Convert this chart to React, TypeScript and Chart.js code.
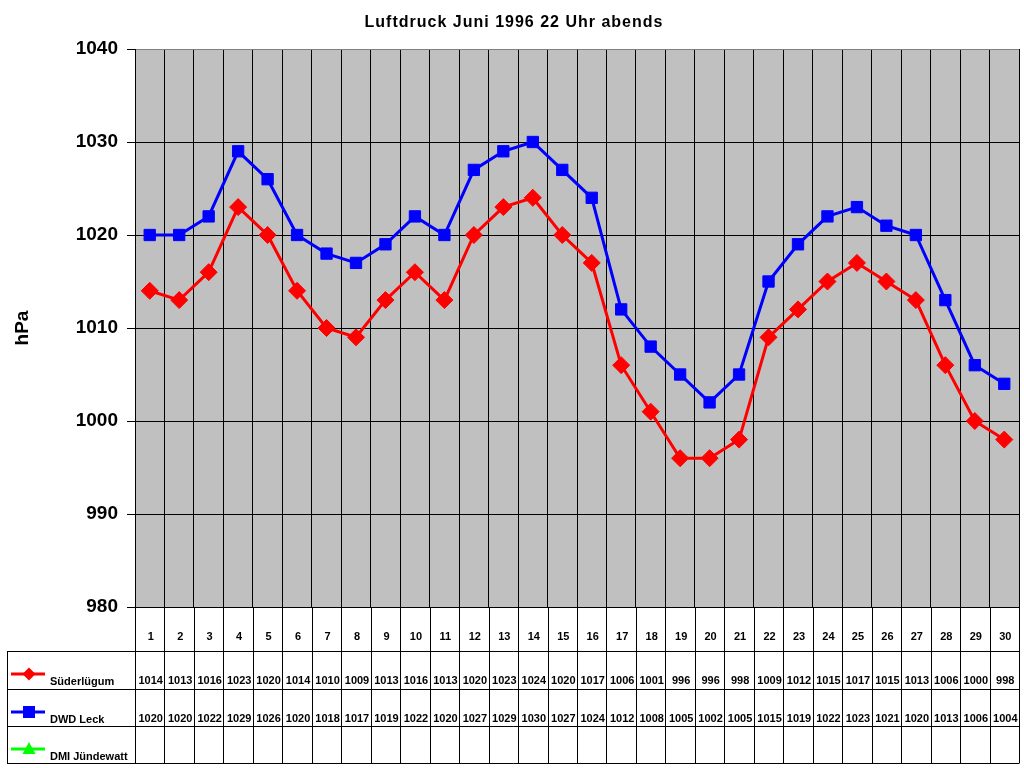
import React, { useEffect, useRef } from 'react';
import { Chart, registerables } from 'chart.js';

Chart.register(...registerables);

const chartTitle = 'Luftdruck Juni 1996 22 Uhr abends';
const yAxisTitle = 'hPa';
const days = ['1', '2', '3', '4', '5', '6', '7', '8', '9', '10', '11', '12', '13', '14', '15', '16', '17', '18', '19', '20', '21', '22', '23', '24', '25', '26', '27', '28', '29', '30'];
const seriesNames = ['Süderlügum', 'DWD Leck', 'DMI Jündewatt'];
const suederluegum = [1014, 1013, 1016, 1023, 1020, 1014, 1010, 1009, 1013, 1016, 1013, 1020, 1023, 1024, 1020, 1017, 1006, 1001, 996, 996, 998, 1009, 1012, 1015, 1017, 1015, 1013, 1006, 1000, 998];
const dwdLeck = [1020, 1020, 1022, 1029, 1026, 1020, 1018, 1017, 1019, 1022, 1020, 1027, 1029, 1030, 1027, 1024, 1012, 1008, 1005, 1002, 1005, 1015, 1019, 1022, 1023, 1021, 1020, 1013, 1006, 1004];
const dmiJuendewatt: number[] = [];
const yMin = 980;
const yMax = 1040;
const yStep = 10;

const FONT = 'Arial, "Liberation Sans", sans-serif';
const colors = ['#FF0000', '#0000FF', '#00FF00'];

function drawMarker(ctx: CanvasRenderingContext2D, kind: string, x: number, y: number, color: string) {
  ctx.save();
  ctx.fillStyle = color;
  ctx.beginPath();
  if (kind === 'diamond') {
    ctx.moveTo(x - 6.5, y);
    ctx.lineTo(x, y - 6.5);
    ctx.lineTo(x + 6.5, y);
    ctx.lineTo(x, y + 6.5);
  } else if (kind === 'square') {
    ctx.rect(x - 6, y - 6, 12, 12);
  } else {
    ctx.moveTo(x, y - 7);
    ctx.lineTo(x + 6.5, y + 5);
    ctx.lineTo(x - 6.5, y + 5);
  }
  ctx.closePath();
  ctx.fill();
  ctx.restore();
}

const tablePlugin = {
  id: 'excelTable',
  beforeDraw(chart: any) {
    const { ctx, chartArea } = chart;
    ctx.save();
    ctx.fillStyle = '#FFFFFF';
    ctx.fillRect(0, 0, chart.width, chart.height);
    ctx.fillStyle = '#C0C0C0';
    ctx.fillRect(chartArea.left, chartArea.top, chartArea.right - chartArea.left, chartArea.bottom - chartArea.top);
    ctx.restore();
  },
  afterDraw(chart: any) {
    const { ctx, chartArea } = chart;
    const xs = chart.scales.x;
    const n = days.length;
    const colW = (chartArea.right - chartArea.left) / n;
    const top = chartArea.bottom;
    const rowLines = [top + 44, top + 82, top + 119, top + 156];
    const tableBottom = rowLines[3];
    const legendLeft = 7;

    ctx.save();
    // title
    ctx.fillStyle = '#000';
    ctx.font = `bold 16px ${FONT}`;
    (ctx as any).letterSpacing = '1px';
    ctx.textAlign = 'center';
    ctx.textBaseline = 'alphabetic';
    ctx.fillText(chartTitle, 514, 27);
    (ctx as any).letterSpacing = '0px';

    // table lines
    ctx.strokeStyle = '#000';
    ctx.lineWidth = 1;
    ctx.beginPath();
    for (let i = 0; i < n; i++) {
      const bx = Math.round(xs.getPixelForValue(i) - colW / 2) + 0.5;
      ctx.moveTo(bx, top);
      ctx.lineTo(bx, tableBottom);
    }
    const rx = Math.round(xs.getPixelForValue(n - 1) + colW / 2) + 0.5;
    ctx.moveTo(rx, top);
    ctx.lineTo(rx, tableBottom);
    for (const ly of rowLines) {
      ctx.moveTo(legendLeft, Math.round(ly) + 0.5);
      ctx.lineTo(rx, Math.round(ly) + 0.5);
    }
    ctx.moveTo(legendLeft + 0.5, rowLines[0]);
    ctx.lineTo(legendLeft + 0.5, tableBottom);
    ctx.stroke();

    // category labels and values
    ctx.font = `bold 11px ${FONT}`;
    ctx.textAlign = 'center';
    const seriesData = [suederluegum, dwdLeck, dmiJuendewatt];
    for (let i = 0; i < n; i++) {
      const cx = xs.getPixelForValue(i) + 1;
      ctx.fillText(days[i], cx, top + 33);
      seriesData.forEach((arr, s) => {
        const v = arr[i];
        if (v !== undefined && v !== null) {
          ctx.fillText(String(v), cx, rowLines[s] + 33);
        }
      });
    }

    // legend keys
    const kinds = ['diamond', 'square', 'triangle'];
    seriesNames.forEach((name, s) => {
      const ly = rowLines[s] + 23;
      ctx.strokeStyle = colors[s];
      ctx.lineWidth = 3;
      ctx.beginPath();
      ctx.moveTo(11, ly);
      ctx.lineTo(45, ly);
      ctx.stroke();
      drawMarker(ctx, kinds[s], 29, ly, colors[s]);
      ctx.fillStyle = '#000';
      ctx.textAlign = 'left';
      ctx.font = `bold 11px ${FONT}`;
      ctx.fillText(name, 50, rowLines[s] + 34);
    });
    ctx.restore();
  },
};

export default function App() {
  const canvasRef = useRef<HTMLCanvasElement | null>(null);

  useEffect(() => {
    document.body.style.margin = '0';
    const canvas = canvasRef.current;
    if (!canvas) return;
    const chart = new Chart(canvas, {
      type: 'line',
      data: {
        labels: days,
        datasets: [
          {
            label: seriesNames[0],
            data: suederluegum,
            borderColor: colors[0],
            backgroundColor: colors[0],
            borderWidth: 3,
            pointStyle: 'rectRot',
            pointRadius: 8.5,
            pointBorderWidth: 1,
            pointBorderColor: colors[0],
            pointBackgroundColor: colors[0],
            tension: 0,
          },
          {
            label: seriesNames[1],
            data: dwdLeck,
            borderColor: colors[1],
            backgroundColor: colors[1],
            borderWidth: 3,
            pointStyle: 'rect',
            pointRadius: 8,
            pointBorderWidth: 1,
            pointBorderColor: colors[1],
            pointBackgroundColor: colors[1],
            tension: 0,
          },
          {
            label: seriesNames[2],
            data: dmiJuendewatt,
            borderColor: colors[2],
            backgroundColor: colors[2],
            borderWidth: 3,
            pointStyle: 'triangle',
            pointRadius: 7,
            tension: 0,
          },
        ],
      },
      options: {
        responsive: false,
        animation: false,
        layout: { autoPadding: false, padding: { top: 49, right: 5, bottom: 161, left: 0 } },
        plugins: {
          legend: { display: false },
          tooltip: { enabled: false },
          title: { display: false },
        },
        scales: {
          x: {
            type: 'category',
            offset: true,
            ticks: { display: false },
            grid: {
              offset: true,
              drawTicks: false,
              color: (c: any) => (c.index === days.length ? '#808080' : '#000000'),
              lineWidth: 1,
            },
            border: { color: '#000000', width: 1 },
            afterFit: (s: any) => {
              s.height = 0;
            },
          },
          y: {
            min: yMin,
            max: yMax,
            ticks: {
              stepSize: yStep,
              color: '#000000',
              padding: 9,
              font: { family: FONT, size: 19, weight: 'bold' },
              callback: (v: any) => String(v),
            },
            grid: {
              color: (c: any) => (c.tick && c.tick.value === yMax ? '#808080' : '#000000'),
              tickColor: '#000000',
              tickLength: 8,
              lineWidth: 1,
            },
            border: { color: '#000000', width: 1 },
            title: {
              display: true,
              text: yAxisTitle,
              color: '#000000',
              font: { family: FONT, size: 19, weight: 'bold' },
              padding: { top: 11, bottom: 0 },
            },
            afterFit: (s: any) => {
              s.width = 135;
            },
          },
        },
      },
      plugins: [tablePlugin],
    } as any);
    return () => chart.destroy();
  }, []);

  return (
    <div style={{ position: 'absolute', left: 0, top: 0, width: 1024, height: 768, background: '#fff' }}>
      <canvas ref={canvasRef} width={1024} height={768} style={{ display: 'block' }} />
    </div>
  );
}
